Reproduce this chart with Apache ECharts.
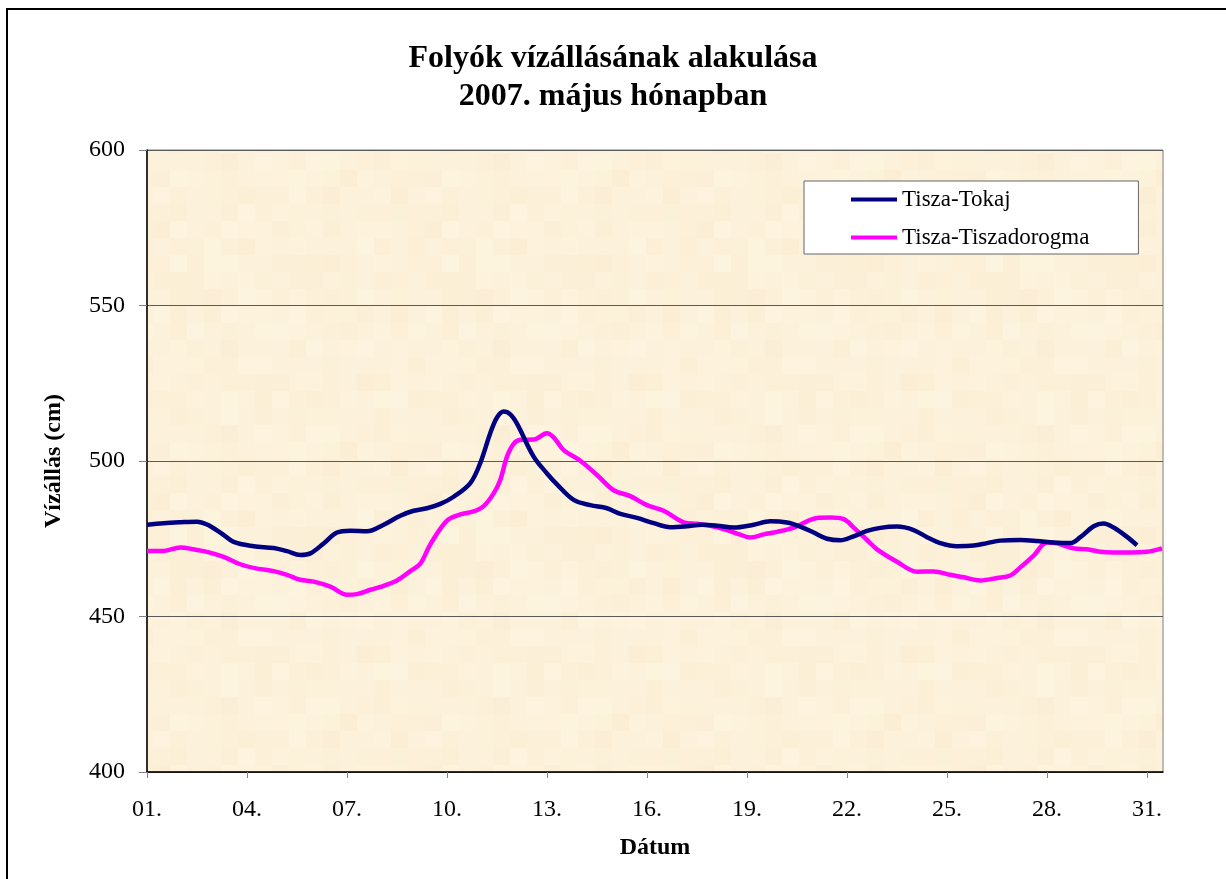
<!DOCTYPE html>
<html>
<head>
<meta charset="utf-8">
<script src="https://cdn.jsdelivr.net/npm/echarts@6/dist/echarts.min.js"></script>
<style>
html,body{margin:0;padding:0;background:#fff;}
#chart{width:1226px;height:879px;}
</style>
</head>
<body>
<div id="chart"></div>
<script>
// ---- Data ----
var seriesNames = ['Tisza-Tokaj', 'Tisza-Tiszadorogma'];
var tickLabels = ['01.', '04.', '07.', '10.', '13.', '16.', '19.', '22.', '25.', '28.', '31.'];

var tokajDays = [1.0,1.5,2.0,2.5,2.8,3.2,3.6,4.2,4.8,5.2,5.6,5.9,6.3,6.7,7.1,7.6,8.1,8.6,9.0,9.4,9.8,10.2,10.7,11.0,11.3,11.5,11.7,11.9,12.1,12.6,13.0,13.3,13.8,14.3,14.8,15.2,15.7,16.2,16.7,17.2,17.65,18.1,18.6,19.2,19.7,20.2,20.6,21.0,21.4,21.8,22.2,22.6,23.0,23.5,24.0,24.4,24.8,25.3,25.8,26.2,26.6,27.2,27.7,28.2,28.7,29.0,29.4,29.7,30.0,30.4,30.7];
var tokajValues = [479.5,480,480.3,480.5,479.6,477,474,472.6,472,471,469.8,470.3,473.5,477.0,477.6,477.4,479.5,482.4,484,484.8,486.2,488.5,492.9,499.4,509,514,515.9,515,512,501.4,496,492.5,487.5,485.8,484.8,483,481.7,480,478.7,479,479.5,479.2,478.6,479.5,480.6,480.2,478.9,477,475,474.5,475.8,477.5,478.5,478.9,477.8,475.5,473.6,472.6,472.8,473.6,474.4,474.6,474.3,473.8,473.6,475.5,479,479.9,478.6,475.6,472.9];

var dorogmaDays = [1.0,1.5,2.0,2.4,2.8,3.3,3.8,4.3,4.8,5.2,5.6,6.0,6.5,7.0,7.3,7.7,8.0,8.5,8.9,9.2,9.5,10.0,10.4,10.8,11.1,11.4,11.6,11.8,12.0,12.2,12.6,13.0,13.2,13.5,14.0,14.5,15.0,15.5,16.0,16.5,17.1,17.5,17.9,18.4,18.8,19.1,19.5,19.9,20.4,20.8,21.1,21.5,21.9,22.2,22.6,22.9,23.5,24.1,24.6,25.1,25.5,26.0,26.5,26.9,27.2,27.6,28.0,28.3,28.8,29.2,29.6,30.0,30.5,31.0,31.45];
var dorogmaValues = [471.1,471.1,472.2,471.6,470.8,469.2,466.8,465.4,464.6,463.4,461.8,461.2,459.6,457.0,457.2,458.6,459.5,461.6,464.6,467,473.2,480.8,482.8,483.8,485.5,489.6,494,501.4,505.5,506.8,506.9,508.9,507.6,503.5,500.1,495.5,490.6,488.7,485.8,484,480.3,479.8,479.2,477.8,476.3,475.4,476.4,477.2,478.6,480.6,481.7,481.8,481.3,478.6,474.6,471.6,467.6,464.4,464.5,463.4,462.6,461.6,462.4,463.2,465.8,469.6,473.8,473.5,471.9,471.6,470.8,470.6,470.6,470.8,471.9];

function pairs(days, vals) {
  var out = [];
  for (var i = 0; i < days.length; i++) out.push([days[i] - 1, vals[i]]);
  return out;
}
var tickValues = tickLabels.map(function (_, i) { return i * 3; });

// ---- Mosaic background texture (styling only) ----
function makeMosaic() {
  var sq = 17, n = 16;
  var c = document.createElement('canvas');
  c.width = sq * n; c.height = sq * n;
  var ctx = c.getContext('2d');
  var seed = 12345;
  function rnd() { seed = (seed * 1103515245 + 12345) % 2147483648; return seed / 2147483648; }
  for (var i = 0; i < n; i++) {
    for (var j = 0; j < n; j++) {
      var d = (rnd() - 0.5) * 6;
      var r = Math.round(252 + d * 0.4), g = Math.round(241 + d), b = Math.round(218 + d * 1.6);
      ctx.fillStyle = 'rgb(' + Math.min(255, r) + ',' + g + ',' + b + ')';
      ctx.fillRect(i * sq, j * sq, sq, sq);
    }
  }
  return c;
}

var FONT = '"Liberation Serif", "Times New Roman", serif';
var chart = echarts.init(document.getElementById('chart'), null, { renderer: 'canvas' });

chart.setOption({
  animation: false,
  backgroundColor: '#ffffff',
  title: {
    text: 'Folyók vízállásának alakulása\n2007. május hónapban',
    left: 'center',
    top: 35,
    textStyle: { fontFamily: FONT, fontSize: 32, fontWeight: 'bold', color: '#000', lineHeight: 38 }
  },
  legend: {
    orient: 'vertical',
    left: 804,
    top: 181,
    padding: [7, 49, 5, 47],
    itemGap: 15,
    itemWidth: 46,
    itemHeight: 4,
    icon: 'rect',
    backgroundColor: '#ffffff',
    borderColor: '#666666',
    borderWidth: 1,
    borderRadius: 0,
    textStyle: { fontFamily: FONT, fontSize: 23, color: '#000' },
    data: seriesNames
  },
  grid: {
    left: 147, top: 150, right: 63, bottom: 107,
    show: true,
    borderColor: '#808080',
    borderWidth: 1,
    backgroundColor: { image: makeMosaic(), repeat: 'repeat' }
  },
  xAxis: {
    type: 'value',
    min: 0,
    max: 30.48,
    interval: 3,
    name: 'Dátum',
    nameLocation: 'middle',
    nameGap: 64,
    nameTextStyle: { fontFamily: FONT, fontSize: 24, fontWeight: 'bold', color: '#000' },
    axisLine: { show: true, lineStyle: { color: '#000', width: 1.5 } },
    axisTick: { show: true, length: 6, customValues: tickValues, lineStyle: { color: '#808080' } },
    axisLabel: {
      margin: 26,
      customValues: tickValues,
      fontFamily: FONT, fontSize: 24, color: '#000',
      formatter: function (v) {
        var k = Math.round(v / 3);
        if (Math.abs(v - k * 3) < 1e-6 && tickLabels[k] !== undefined) return tickLabels[k];
        return '';
      }
    },
    splitLine: { show: false }
  },
  yAxis: {
    type: 'value',
    min: 400,
    max: 600,
    interval: 50,
    name: 'Vízállás (cm)',
    nameLocation: 'middle',
    nameGap: 81,
    nameTextStyle: { fontFamily: FONT, fontSize: 24, fontWeight: 'bold', color: '#000' },
    axisLine: { show: true, lineStyle: { color: '#000', width: 1.5 } },
    axisTick: { show: true, length: 8, lineStyle: { color: '#808080' } },
    axisLabel: { margin: 22, fontFamily: FONT, fontSize: 24, color: '#000' },
    splitLine: { show: true, lineStyle: { color: '#5a5a5a', width: 1 } }
  },
  series: [
    {
      name: seriesNames[0],
      type: 'line',
      data: pairs(tokajDays, tokajValues),
      smooth: 0.35,
      symbol: 'none',
      lineStyle: { color: '#000080', width: 4.5 },
      itemStyle: { color: '#000080' },
      z: 3
    },
    {
      name: seriesNames[1],
      type: 'line',
      data: pairs(dorogmaDays, dorogmaValues),
      smooth: 0.35,
      symbol: 'none',
      lineStyle: { color: '#FF00FF', width: 4.5 },
      itemStyle: { color: '#FF00FF' },
      z: 2
    }
  ],
  graphic: [
    {
      type: 'rect',
      shape: { x: 7, y: 9, width: 1400, height: 1000 },
      style: { fill: null, stroke: '#000', lineWidth: 2 },
      silent: true,
      z: 100
    }
  ]
});
</script>
</body>
</html>
